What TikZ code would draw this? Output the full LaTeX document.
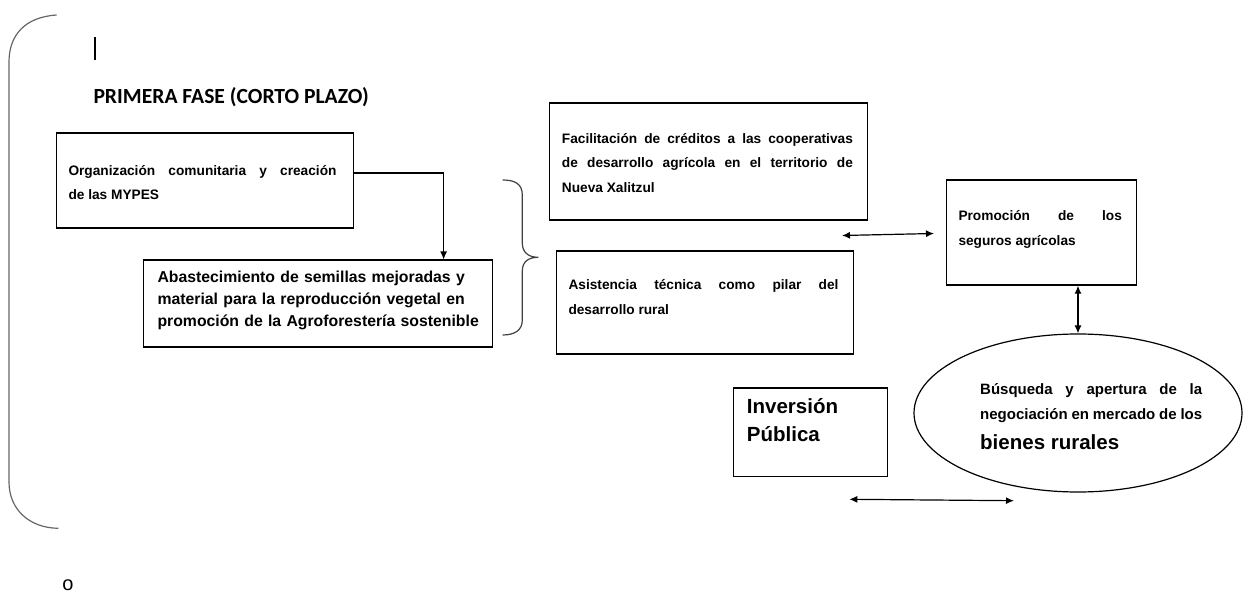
\documentclass[tikz,border=0pt]{standalone}
\usepackage{fontspec}
\setmainfont{Liberation Sans}
\newfontfamily\calibrifont{Carlito}
\usetikzlibrary{arrows.meta,shapes.geometric}
\hyphenpenalty=10000
\exhyphenpenalty=10000
\begin{document}
\begin{tikzpicture}[x=1pt,y=-1pt,
  box/.style={draw, line width=1.2pt, inner sep=0pt, anchor=north west},
  txt/.style={anchor=base west, inner sep=0pt, align=justify, text=black},
  small/.style={font=\bfseries\fontsize{13.7}{24.5}\selectfont},
  mid/.style={font=\bfseries\fontsize{15}{24.3}\selectfont},
  big/.style={font=\bfseries\fontsize{20.5}{28.4}\selectfont},
  link/.style={line width=1.2pt},
  tip/.style={-{Latex[length=8pt,width=7pt]}},
  dtip/.style={{Latex[length=8pt,width=7pt]}-{Latex[length=8pt,width=7pt]}},
  bracket/.style={draw=black!60, line width=1.2pt}]

\useasboundingbox (0,0) rectangle (1253,593);

% left bracket and brace
\draw[bracket] (56.7,15) .. controls (25,17) and (9,35) .. (9,62) -- (9,482)
  .. controls (9,510) and (30,528) .. (58.3,528.3);
\draw[bracket, draw=black!75] (502.7,180) .. controls (515,180) and (522.3,184) .. (522.3,195)
  -- (522.3,243) .. controls (522.3,252) and (528,257.3) .. (538.3,257.3)
  .. controls (528,257.3) and (522.3,262) .. (522.3,271)
  -- (522.3,320) .. controls (522.3,330) and (515,335) .. (502.7,335);

% bar and title
\node[inner sep=0pt] (bar) at (95,48.3) {\rule{2.3pt}{23.3pt}};
\node[txt, font=\calibrifont\bfseries\fontsize{21.6}{24}\selectfont] (title) at (93.3,103.3) {PRIMERA FASE (CORTO PLAZO)};

% boxes
\node[box, minimum width=297pt, minimum height=95pt] (b1) at (55.5,132.5) {};
\node[box, minimum width=349pt, minimum height=87pt] (b2) at (142.5,259.5) {};
\node[box, minimum width=318pt, minimum height=117pt] (b3) at (548.5,102.5) {};
\node[box, minimum width=297pt, minimum height=103pt] (b4) at (555.5,250.5) {};
\node[box, minimum width=190pt, minimum height=105pt] (b5) at (945.5,179.5) {};
\node[box, minimum width=154pt, minimum height=88pt] (b6) at (732.5,387.5) {};
\node[draw, ellipse, line width=1.2pt, inner sep=0pt, minimum width=328pt, minimum height=158pt] (ell) at (1078,413) {};

% texts
\node[txt, small, text width=268pt] (t1) at (68.3,175.5)
  {Organización comunitaria y creación\linebreak de las MYPES};
\node[txt, align=left, text width=330pt, font=\bfseries\fontsize{15.8}{22}\selectfont] (t2) at (157.3,282.7)
  {Abastecimiento de semillas mejoradas y\\ material para la reproducción vegetal en\\ promoción de la Agroforestería sostenible};
\node[txt, small, text width=291pt] (t3) at (561.7,143.3)
  {Facilitación de créditos a las cooperativas\linebreak de desarrollo agrícola en el territorio de\linebreak Nueva Xalitzul};
\node[txt, small, text width=270pt] (t4) at (568.3,290)
  {Asistencia técnica como pilar del\linebreak desarrollo rural};
\node[txt, small, text width=163.4pt] (t5) at (958.3,220.7)
  {Promoción de los\linebreak seguros agrícolas};
\node[txt, mid, text width=222pt] (t6) at (980,395)
  {Búsqueda y apertura de la\linebreak negociación en mercado de los};
\node[txt, big] (t6b) at (980,449) {bienes rurales};
\node[txt, big, align=left, text width=130pt] (t7) at (746.7,413.3) {Inversión\\ Pública};
\node[anchor=base, inner sep=0pt, font=\fontsize{20}{22}\selectfont] (oo) at (68,590) {o};

% connectors
\draw[link, tip] ([yshift=7.5pt]b1.east) -| ([xshift=126pt]b2.north);
\coordinate (a1s) at (842,235.5);
\coordinate (a1e) at (934,233.5);
\draw[link, dtip] (a1s) -- (a1e);
\draw[link, dtip] (b5.south -| ell.north) -- (ell.north);
\coordinate (a2s) at (849.3,499.3);
\coordinate (a2e) at (1014,500.7);
\draw[link, dtip] (a2s) -- (a2e);
\end{tikzpicture}
\end{document}
